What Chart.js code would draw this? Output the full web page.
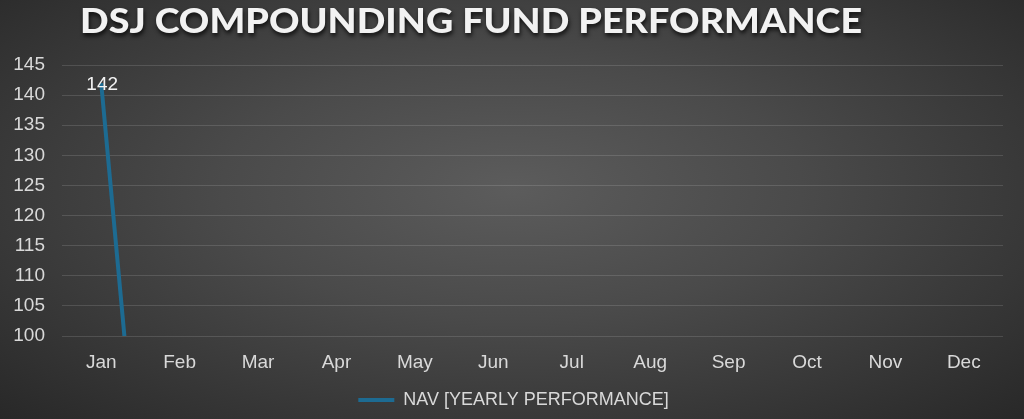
<!DOCTYPE html>
<html>
<head>
<meta charset="utf-8">
<script src="https://cdn.jsdelivr.net/npm/chart.js@4.4.1/dist/chart.umd.min.js"></script>
<style>
  html, body { margin: 0; padding: 0; background: #2b2b2b; }
  #wrap {
    width: 1024px; height: 419px; position: relative;
    background: radial-gradient(ellipse at 50% 45%, #5c5c5c 0%, #4a4a4a 40%, #282828 100%);
  }
</style>
</head>
<body>
<div id="wrap"><canvas id="chart" width="1024" height="419"></canvas></div>
<script>
var months = ['Jan', 'Feb', 'Mar', 'Apr', 'May', 'Jun', 'Jul', 'Aug', 'Sep', 'Oct', 'Nov', 'Dec'];
var navValues = [142, 0, 0, 0, 0, 0, 0, 0, 0, 0, 0, 0];
var seriesName = 'NAV [YEARLY PERFORMANCE]';
var chartTitle = 'DSJ COMPOUNDING FUND PERFORMANCE';

// title with drop shadow, sits a bit left of centre like the original
var titlePlugin = {
    id: 'titleShadow',
    afterLayout: function(chart) {
        // legend in the original sits a little right of centre
        chart.legend.left += 24;
    },
    afterDraw: function(chart) {
        var ctx = chart.ctx;
        ctx.save();
        ctx.font = '900 35px "Lato"';
        var w = ctx.measureText(chartTitle).width;
        var sx = 782 / w;
        ctx.translate(471, 22);
        ctx.scale(sx, 1);
        ctx.textAlign = 'center';
        ctx.textBaseline = 'middle';
        ctx.shadowColor = 'rgba(0,0,0,0.75)';
        ctx.shadowOffsetX = 1;
        ctx.shadowOffsetY = 3;
        ctx.shadowBlur = 4;
        ctx.fillStyle = '#f2f2f2';
        ctx.fillText(chartTitle, 0, 0);
        ctx.restore();
    }
};

// first point gets its value written on it
var labelPlugin = {
    id: 'firstLabel',
    afterDatasetsDraw: function(chart) {
        var ctx = chart.ctx;
        var pt = chart.getDatasetMeta(0).data[0];
        ctx.save();
        ctx.font = '19px "Liberation Sans"';
        ctx.fillStyle = '#f2f2f2';
        ctx.textAlign = 'center';
        ctx.textBaseline = 'middle';
        ctx.fillText(String(navValues[0]), pt.x + 1, pt.y + 2);
        ctx.restore();
    }
};

var ctx = document.getElementById('chart');
var chart = new Chart(ctx, {
    type: 'line',
    data: {
        labels: months,
        datasets: [{
            label: seriesName,
            data: navValues,
            borderColor: '#1d6b92',
            backgroundColor: '#1d6b92',
            borderWidth: 4,
            pointRadius: 0,
            tension: 0,
            fill: false
        }]
    },
    options: {
        responsive: false,
        animation: false,
        layout: { padding: { top: 65, left: 0, right: 21, bottom: 0 } },
        plugins: {
            title: { display: false },
            tooltip: { enabled: false },
            legend: {
                position: 'bottom',
                labels: {
                    color: '#d9d9d9',
                    font: { family: 'Liberation Sans', size: 18 },
                    usePointStyle: true,
                    pointStyle: 'line',
                    pointStyleWidth: 36,
                    boxWidth: 36,
                    padding: 11
                }
            }
        },
        scales: {
            x: {
                offset: true,
                grid: { display: false },
                border: { display: false },
                ticks: { color: '#d9d9d9', font: { family: 'Liberation Sans', size: 19 }, padding: 7 },
                afterFit: function(scale) { scale.height = 44; }
            },
            y: {
                min: 100,
                max: 145,
                ticks: { stepSize: 5, color: '#d9d9d9', font: { family: 'Liberation Sans', size: 19 }, padding: 17 },
                grid: { color: 'rgba(255,255,255,0.13)', drawTicks: false },
                border: { display: false },
                afterFit: function(scale) { scale.width = 62; }
            }
        }
    },
    plugins: [titlePlugin, labelPlugin]
});
</script>
</body>
</html>
